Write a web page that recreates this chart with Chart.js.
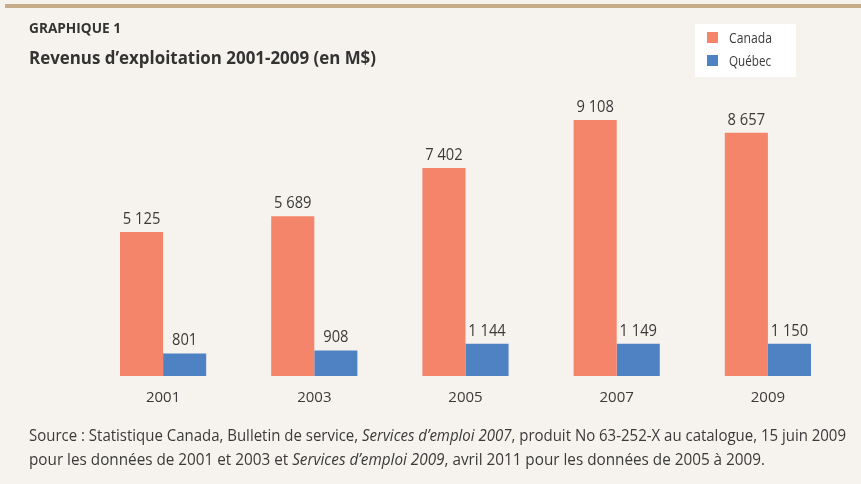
<!DOCTYPE html>
<html lang="fr">
<head>
<meta charset="utf-8">
<script src="https://cdn.jsdelivr.net/npm/chart.js@4.4.1/dist/chart.umd.min.js"></script>
<style>
    html, body {
        margin: 0;
        padding: 0;
        width: 861px;
        height: 484px;
        overflow: hidden;
        background: #f6f3ee;
        font-family: "Open Sans", sans-serif;
        color: #3a3a3a;
    }
    #top-rule {
        position: absolute;
        left: 5px;
        right: 0;
        top: 4px;
        height: 4px;
        background: #c4ad88;
    }
    .txt {
        position: absolute;
        white-space: nowrap;
        transform-origin: left center;
    }
    #chart-wrap {
        position: absolute;
        left: 0;
        top: 0;
        width: 861px;
        height: 484px;
    }
</style>
</head>
<body>
<div id="top-rule"></div>
<div id="chart-wrap"><canvas id="revenus-chart" width="861" height="484"></canvas></div>
<div class="txt" data-w="92" style="left:29px; top:17px; font-size:15px; line-height:20px; font-weight:700; color:#333;">GRAPHIQUE 1</div>
<div class="txt" data-w="347" style="left:29px; top:46px; font-size:18px; line-height:22px; font-weight:700; color:#333;">Revenus d’exploitation 2001-2009 (en M$)</div>
<div class="txt" data-w="817" style="left:29px; top:424px; font-size:16px; line-height:22px;">Source : Statistique Canada, Bulletin de service, <i>Services d’emploi 2007</i>, produit No 63-252-X au catalogue, 15 juin 2009</div>
<div class="txt" data-w="736" style="left:29px; top:448px; font-size:16px; line-height:22px;">pour les données de 2001 et 2003 et <i>Services d’emploi 2009</i>, avril 2011 pour les données de 2005 à 2009.</div>

<script>
const categories = ['2001', '2003', '2005', '2007', '2009'];
const canadaValues = [5125, 5689, 7402, 9108, 8657];
const quebecValues = [801, 908, 1144, 1149, 1150];
const seriesNames = ['Canada', 'Québec'];

const canadaColor = '#f4856a';
const quebecColor = '#4f82c3';
const textColor = '#3a3a3a';

function formatNombre(v) {
    return String(v).replace(/\B(?=(\d{3})+(?!\d))/g, ' ');
}

// squeeze html texts to the condensed widths of the original
document.querySelectorAll('.txt').forEach(el => {
    const target = parseFloat(el.dataset.w);
    const w = el.getBoundingClientRect().width;
    if (w > 0) {
        el.style.transform = `scaleX(${target / w})`;
    }
});

const valueLabels = {
    id: 'valueLabels',
    afterDatasetsDraw(chart) {
        const ctx = chart.ctx;
        ctx.save();
        ctx.font = '16px "Open Sans"';
        ctx.fillStyle = textColor;
        ctx.textAlign = 'center';
        ctx.textBaseline = 'alphabetic';
        chart.data.datasets.forEach((ds, i) => {
            const meta = chart.getDatasetMeta(i);
            meta.data.forEach((bar, j) => {
                const txt = formatNombre(ds.data[j]);
                ctx.save();
                ctx.translate(bar.x, bar.y - 8);
                ctx.scale(0.92, 1);
                ctx.fillText(txt, 0, 0);
                ctx.restore();
            });
        });
        ctx.restore();
    }
};

const boxLegend = {
    id: 'boxLegend',
    afterDraw(chart) {
        const ctx = chart.ctx;
        ctx.save();
        ctx.fillStyle = '#ffffff';
        ctx.fillRect(695, 24, 101, 53);
        chart.data.datasets.forEach((ds, i) => {
            const y = 32 + i * 23;
            ctx.fillStyle = ds.backgroundColor;
            ctx.fillRect(707, y, 11, 11);
            ctx.fillStyle = textColor;
            ctx.font = '15px "Open Sans"';
            ctx.textBaseline = 'middle';
            ctx.textAlign = 'left';
            const w = ctx.measureText(ds.label).width;
            const target = i === 0 ? 43 : 42;
            ctx.save();
            ctx.translate(729, y + 6.5);
            ctx.scale(target / w, 1);
            ctx.fillText(ds.label, 0, 0);
            ctx.restore();
        });
        ctx.restore();
    }
};

const ctx = document.getElementById('revenus-chart').getContext('2d');
const chartInstance = new Chart(ctx, {
    type: 'bar',
    data: {
        labels: categories,
        datasets: [
            {
                label: seriesNames[0],
                data: canadaValues,
                backgroundColor: canadaColor,
                borderWidth: 0
            },
            {
                label: seriesNames[1],
                data: quebecValues,
                backgroundColor: quebecColor,
                borderWidth: 0
            }
        ]
    },
    options: {
        responsive: false,
        animation: false,
        layout: {
            padding: { left: 87.5, right: 17.5, top: 95, bottom: 64 }
        },
        datasets: {
            bar: {
                categoryPercentage: 0.57,
                barPercentage: 1.0
            }
        },
        plugins: {
            legend: { display: false },
            tooltip: { enabled: false },
            title: { display: false }
        },
        scales: {
            x: {
                grid: { display: false, drawTicks: false },
                border: { display: false },
                ticks: {
                    color: textColor,
                    padding: 13,
                    font: { family: 'Open Sans', size: 15 }
                }
            },
            y: {
                display: false,
                min: 0,
                max: 10000
            }
        }
    },
    plugins: [valueLabels, boxLegend]
});
</script>
</body>
</html>
